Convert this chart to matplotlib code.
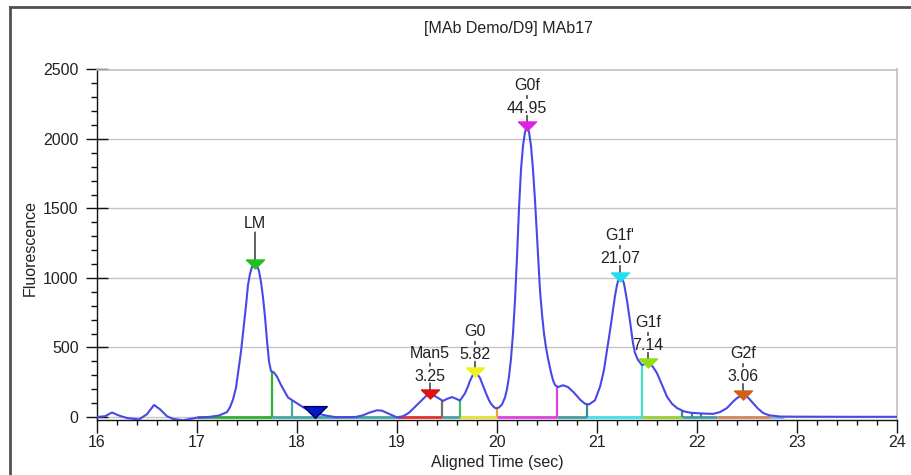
import numpy as np
import matplotlib.pyplot as plt
from matplotlib.lines import Line2D
from matplotlib.ticker import MultipleLocator
from matplotlib.transforms import offset_copy

plt.rcParams['font.family'] = ['Liberation Sans', 'DejaVu Sans']
plt.rcParams['font.size'] = 11.5
TXT = '#222222'

# trace: aligned time (sec) vs fluorescence
time = [16.00, 16.08, 16.15, 16.22, 16.30, 16.42, 16.50, 16.57, 16.63, 16.70,
        16.76, 16.86, 16.95, 17.00, 17.12, 17.22, 17.30, 17.33, 17.36, 17.39,
        17.41, 17.44, 17.46, 17.49, 17.51, 17.53, 17.55, 17.57, 17.58, 17.60,
        17.62, 17.64, 17.66, 17.68, 17.70, 17.72, 17.74, 17.77, 17.80, 17.84,
        17.91, 17.97, 18.05, 18.12, 18.18, 18.29, 18.39, 18.50, 18.59, 18.66,
        18.72, 18.80, 18.85, 18.92, 19.00, 19.06, 19.12, 19.22, 19.29, 19.33,
        19.38, 19.46, 19.50, 19.55, 19.60, 19.63, 19.68, 19.71, 19.73, 19.76,
        19.78, 19.80, 19.83, 19.86, 19.89, 19.92, 19.94, 19.97, 19.99, 20.02,
        20.05, 20.08, 20.10, 20.12, 20.14, 20.16, 20.18, 20.20, 20.22, 20.24,
        20.26, 20.28, 20.30, 20.32, 20.34, 20.36, 20.38, 20.40, 20.43, 20.45,
        20.47, 20.49, 20.51, 20.54, 20.56, 20.58, 20.61, 20.66, 20.71, 20.77,
        20.83, 20.88, 20.92, 20.98, 21.03, 21.05, 21.07, 21.10, 21.13, 21.16,
        21.18, 21.20, 21.22, 21.23, 21.25, 21.27, 21.30, 21.33, 21.36, 21.38,
        21.41, 21.45, 21.49, 21.52, 21.56, 21.60, 21.65, 21.70, 21.75, 21.80,
        21.87, 21.93, 22.00, 22.08, 22.16, 22.23, 22.30, 22.36, 22.40, 22.46,
        22.51, 22.56, 22.61, 22.66, 22.72, 22.83, 23.00, 23.50, 24.00]
fluor = [0, 5, 32, 10, -8, -18, 20, 86, 55, 5,
         -14, -24, -12, -5, 0, 10, 35, 70, 125, 210,
         315, 470, 600, 800, 950, 1030, 1080, 1098, 1100, 1090,
         1050, 970, 860, 720, 550, 400, 330, 320, 290, 230,
         140, 112, 75, 45, 28, 10, -2, -1, 0, 12,
         30, 48, 45, 22, -3, 5, 30, 100, 150, 165,
         150, 115, 130, 143, 128, 118, 170, 220, 260, 305,
         320, 312, 280, 225, 170, 120, 95, 70, 62, 68,
         90, 140, 200, 290, 420, 600, 840, 1150, 1500, 1780,
         1950, 2050, 2090, 2050, 1950, 1780, 1560, 1300, 910, 740,
         600, 500, 420, 320, 265, 230, 215, 228, 215, 175,
         125, 95, 90, 120, 217, 275, 340, 480, 620, 767,
         870, 950, 1000, 1010, 1000, 960, 838, 690, 530, 460,
         410, 373, 383, 385, 360, 315, 230, 146, 95, 64,
         40, 31, 27, 24, 22, 35, 64, 110, 136, 160,
         140, 100, 60, 29, 12, 3, 2, 1, 1]

# identified peaks
peak_names = ['LM', 'Man5', 'G0', 'G0f', "G1f'", 'G1f', 'G2f']
peak_times = [17.58, 19.33, 19.78, 20.30, 21.23, 21.51, 22.46]
peak_heights = [1100, 165, 320, 2090, 1010, 385, 160]
peak_areas = [None, '3.25', '5.82', '44.95', '21.07', '7.14', '3.06']
peak_colors = ['#20c020', '#e01010', '#f0f020', '#e020e0', '#20e0f0', '#90e010', '#d06018']

# unassigned peak marker
extra_time = 18.18
extra_height = 36

# integration baselines (start, end, colour)
seg_start = [17.00, 17.75, 17.95, 19.00, 19.45, 19.63, 20.00, 20.60, 20.90, 21.45, 21.85, 22.20, 22.73]
seg_end = [17.75, 17.95, 19.00, 19.45, 19.63, 20.00, 20.60, 20.90, 21.45, 21.85, 22.20, 22.73, 22.87]
seg_colors = ['#30b030', '#40a8a8', '#40a8a8', '#e03030', '#50a0a0', '#e8e030', '#e040e0',
              '#40a0a0', '#40e0f0', '#98d030', '#40a0a0', '#d08858', '#80b0e0']

# peak split drop lines
drop_times = [17.75, 17.95, 19.45, 19.63, 20.00, 20.60, 20.90, 21.45, 21.85, 21.95, 22.04]
drop_colors = ['#30b030', '#40a8a8', '#707070', '#40c060', '#f0a030', '#e040e0',
               '#309090', '#40e0c0', '#309090', '#309090', '#309090']

fig = plt.figure(figsize=(9.12, 4.75), dpi=100)
ax = fig.add_axes([97 / 912, 1 - 420 / 475, 800 / 912, 350.5 / 475])

ax.set_xlim(16, 24)
ax.set_ylim(-22, 2500)

for g in [0, 500, 1000, 1500, 2000]:
    ax.axhline(g, color='#c4c4c4', lw=1, zorder=0)

for s, e, c in zip(seg_start, seg_end, seg_colors):
    ax.plot([s, e], [0, 0], color=c, lw=2, solid_capstyle='butt', zorder=2)

drop_heights = np.interp(drop_times, time, fluor)
ax.vlines(drop_times, 0, drop_heights, colors=drop_colors, lw=1.6, zorder=2)

ax.plot(time, fluor, color='#4848e8', lw=1.5, zorder=3)

tri = [(-1, 0.5), (1, 0.5), (0, -0.5), (-1, 0.5)]


def off(dy):
    return offset_copy(ax.transData, fig=fig, x=0, y=dy, units='dots')


def stick(t, h, y0, y1):
    ax.annotate('', xy=(t, h), xycoords=off(y0), xytext=(t, h), textcoords=off(y1),
                arrowprops=dict(arrowstyle='-', color='#222222', lw=1,
                                shrinkA=0, shrinkB=0))


for name, t, h, area, c in zip(peak_names, peak_times, peak_heights, peak_areas, peak_colors):
    ax.plot([t], [h], marker=tri, ms=13, color=c, mec=c, zorder=5)
    ax.annotate(name, xy=(t, h), xytext=(0, 41), textcoords='offset pixels',
                ha='center', va='center', color=TXT, zorder=6)
    if area is None:
        stick(t, h, 1, 32)
    else:
        ax.annotate(area, xy=(t, h), xytext=(0, 18), textcoords='offset pixels',
                    ha='center', va='center', color=TXT, zorder=6)
        stick(t, h, 28, 31)
        stick(t, h, 4, 11)

ax.plot([extra_time], [extra_height], marker=tri, ms=17, color='#0818c8',
        mec='#000060', mew=1, zorder=5)

# axes styling
for side in ['top', 'right']:
    ax.spines[side].set_color('#c0c0c0')
    ax.spines[side].set_linewidth(1.2)
for side in ['left', 'bottom']:
    ax.spines[side].set_color('#111111')
    ax.spines[side].set_linewidth(1)

ax.xaxis.set_major_locator(MultipleLocator(1))
ax.xaxis.set_minor_locator(MultipleLocator(0.2))
ax.yaxis.set_major_locator(MultipleLocator(500))
ax.yaxis.set_minor_locator(MultipleLocator(100))
ax.tick_params(axis='y', which='major', direction='inout', length=16.5, width=1,
               pad=5, labelcolor=TXT, color='#111111')
ax.tick_params(axis='y', which='minor', direction='out', length=4.3, width=1, color='#111111')
ax.tick_params(axis='x', which='major', direction='out', length=9, width=1,
               pad=2, labelcolor=TXT, color='#111111')
ax.tick_params(axis='x', which='minor', direction='out', length=3.8, width=1, color='#111111')

fig.text(508 / 912, 1 - 28 / 475, '[MAb Demo/D9] MAb17', ha='center', va='center', color=TXT)
fig.text(497 / 912, 1 - 462 / 475, 'Aligned Time (sec)', ha='center', va='center', color=TXT)
fig.text(30 / 912, 1 - 248 / 475, 'Fluorescence', rotation=90, ha='center', va='center', color=TXT)

# outer window frame
fig.add_artist(Line2D([10 / 912, 10 / 912], [0, 1 - 7 / 475], transform=fig.transFigure,
                      color='#505050', lw=2))
fig.add_artist(Line2D([10 / 912, 1], [1 - 7 / 475, 1 - 7 / 475], transform=fig.transFigure,
                      color='#505050', lw=2))

fig.savefig('out.png', dpi=100)
